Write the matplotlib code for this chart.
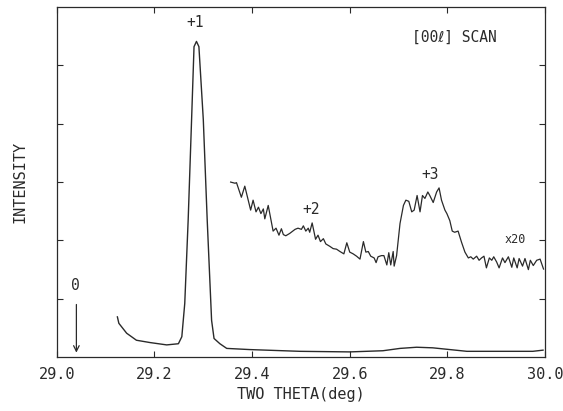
import matplotlib
matplotlib.use("Agg")
import matplotlib.pyplot as plt

# main scan (full scale)
theta_main = [29.124, 29.127, 29.143, 29.163, 29.191, 29.225, 29.249, 29.256,
              29.262, 29.269, 29.276, 29.281, 29.286, 29.291, 29.300, 29.308,
              29.317, 29.322, 29.334, 29.348, 29.395, 29.498, 29.600, 29.668,
              29.703, 29.737, 29.770, 29.805, 29.840, 29.908, 29.975, 29.996]
int_main = [0.69, 0.58, 0.41, 0.29, 0.25, 0.21, 0.23, 0.35,
            0.92, 2.35, 4.07, 5.32, 5.41, 5.32, 4.07, 2.35,
            0.63, 0.32, 0.23, 0.15, 0.13, 0.10, 0.09, 0.11,
            0.15, 0.17, 0.16, 0.13, 0.10, 0.10, 0.10, 0.12]

# magnified scan (x20)
theta_x20 = [29.356, 29.365, 29.368, 29.378, 29.385, 29.397, 29.402, 29.408,
             29.413, 29.418, 29.423, 29.426, 29.433, 29.443, 29.449, 29.455,
             29.460, 29.464, 29.469, 29.477, 29.488, 29.494, 29.501, 29.505,
             29.510, 29.515, 29.518, 29.523, 29.530, 29.535, 29.540, 29.546,
             29.551, 29.559, 29.566, 29.573, 29.580, 29.588, 29.594, 29.600,
             29.607, 29.614, 29.621, 29.628, 29.633, 29.638, 29.643, 29.650,
             29.654, 29.658, 29.665, 29.670, 29.676, 29.680, 29.684, 29.689,
             29.691, 29.696, 29.703, 29.710, 29.715, 29.721, 29.727, 29.732,
             29.738, 29.744, 29.749, 29.754, 29.760, 29.764, 29.771, 29.778,
             29.783, 29.788, 29.795, 29.799, 29.805, 29.810, 29.815, 29.822,
             29.829, 29.836, 29.843, 29.848, 29.853, 29.860, 29.865, 29.870,
             29.875, 29.880, 29.886, 29.891, 29.895, 29.901, 29.906, 29.913,
             29.918, 29.925, 29.932, 29.936, 29.943, 29.947, 29.954, 29.959,
             29.966, 29.970, 29.976, 29.983, 29.990, 29.997]
int_x20 = [3.00, 2.98, 2.99, 2.74, 2.93, 2.52, 2.69, 2.49,
           2.57, 2.46, 2.54, 2.37, 2.60, 2.16, 2.21, 2.09,
           2.20, 2.10, 2.08, 2.12, 2.19, 2.21, 2.19, 2.25,
           2.16, 2.21, 2.14, 2.30, 2.02, 2.09, 1.98, 2.03,
           1.94, 1.90, 1.86, 1.85, 1.81, 1.77, 1.96, 1.80,
           1.77, 1.73, 1.68, 1.98, 1.80, 1.81, 1.73, 1.70,
           1.62, 1.72, 1.74, 1.74, 1.58, 1.79, 1.58, 1.81,
           1.56, 1.74, 2.29, 2.60, 2.69, 2.67, 2.49, 2.52,
           2.77, 2.49, 2.77, 2.72, 2.83, 2.77, 2.65, 2.83,
           2.90, 2.69, 2.52, 2.46, 2.34, 2.16, 2.14, 2.16,
           1.97, 1.80, 1.70, 1.72, 1.68, 1.73, 1.66, 1.70,
           1.73, 1.53, 1.70, 1.66, 1.72, 1.63, 1.53, 1.70,
           1.62, 1.72, 1.54, 1.70, 1.53, 1.69, 1.56, 1.69,
           1.50, 1.66, 1.57, 1.66, 1.68, 1.51]

xticks = [29.0, 29.2, 29.4, 29.6, 29.8, 30.0]
xticklabels = ["29.0", "29.2", "29.4", "29.6", "29.8", "30.0"]

ink = "#2a2a2a"
mono = ["DejaVu Sans Mono", "DejaVu Sans"]

fig = plt.figure(figsize=(5.63, 4.11), dpi=100)
ax = fig.add_axes([0.101, 0.131, 0.867, 0.852])

ax.plot(theta_main, int_main, color=ink, lw=1.0)
ax.plot(theta_x20, int_x20, color=ink, lw=0.9)

ax.set_xlim(29.0, 30.0)
ax.set_ylim(0, 6)
ax.set_xticks(xticks)
ax.set_xticklabels(xticklabels, family=mono, fontsize=11, color=ink)
ax.set_yticks([1, 2, 3, 4, 5])
ax.set_yticklabels([])
ax.tick_params(direction="in", length=4, width=0.8, color=ink,
               top=True, right=True, pad=7)
for s in ax.spines.values():
    s.set_color(ink)
    s.set_linewidth(0.9)

ax.set_xlabel("TWO THETA(deg)", family=mono, fontsize=11, color=ink, labelpad=4)
ax.set_ylabel("INTENSITY", family=mono, fontsize=11, color=ink, labelpad=14)

ax.text(29.284, 5.6, "+1", family=mono, fontsize=10.5, color=ink, ha="center", va="bottom")
ax.text(29.52, 2.4, "+2", family=mono, fontsize=10.5, color=ink, ha="center", va="bottom")
ax.text(29.765, 3.0, "+3", family=mono, fontsize=10.5, color=ink, ha="center", va="bottom")
ax.text(29.94, 1.9, "x20", family=mono, fontsize=8.5, color=ink, ha="center", va="bottom")
ax.text(29.815, 5.35, "[00ℓ] SCAN", family=mono, fontsize=10.5, color=ink, ha="center", va="bottom")
ax.text(29.037, 1.1, "0", family=mono, fontsize=10.5, color=ink, ha="center", va="bottom")
ax.annotate("", xy=(29.04, 0.03), xytext=(29.04, 0.95),
            arrowprops=dict(arrowstyle="->", color=ink, lw=0.9))

fig.savefig("out.png", dpi=100)
